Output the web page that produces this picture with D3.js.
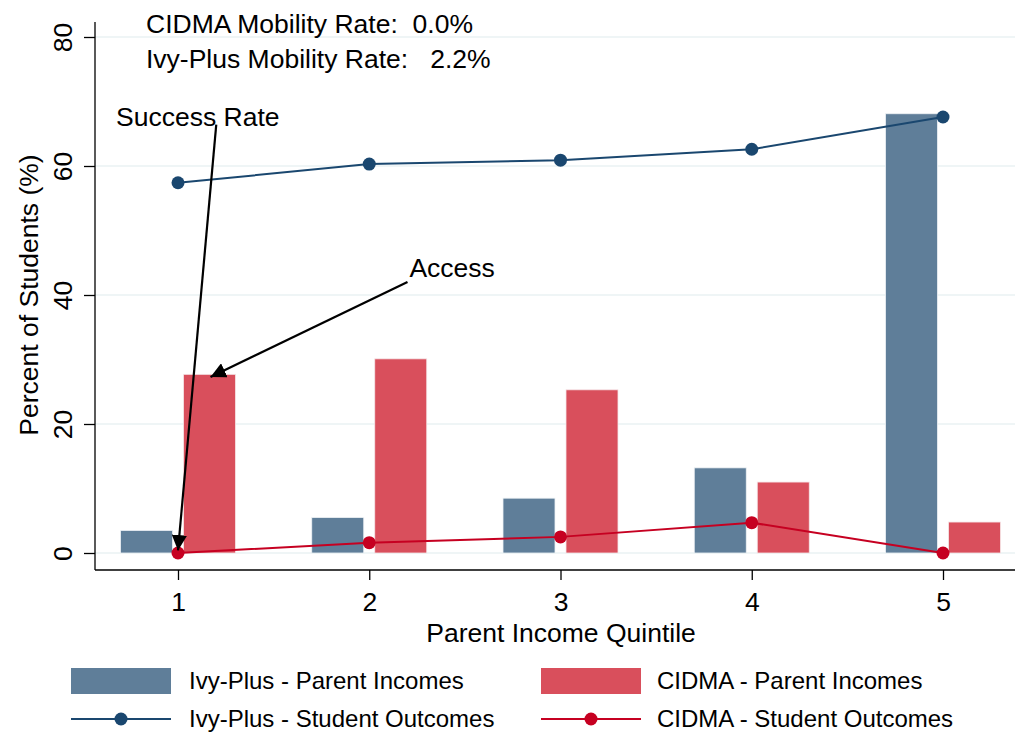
<!DOCTYPE html>
<html>
<head>
<meta charset="utf-8">
<script src="https://cdn.jsdelivr.net/npm/d3@7"></script>
<style>
  body { margin: 0; background: #fff; }
  svg { font-family: "Liberation Sans", Arial, sans-serif; }
</style>
</head>
<body>
<script>
// data
const quintiles = [1, 2, 3, 4, 5];
const ivyParent = [3.5, 5.5, 8.5, 13.2, 68.1];
const cidmaParent = [27.7, 30.1, 25.3, 11.0, 4.8];
const ivyOutcome = [57.4, 60.3, 60.9, 62.6, 67.6];
const cidmaOutcome = [0.0, 1.6, 2.5, 4.7, 0.0];
const yTicks = [0, 20, 40, 60, 80];
const mobilityLines = ["CIDMA Mobility Rate:  0.0%", "Ivy-Plus Mobility Rate:   2.2%"];

const width = 1015, height = 732;
const ivyBar = "#5f7e99", cidmaBar = "#d94f5c";
const ivyLine = "#1a476f", cidmaLine = "#c60021";
const bigFont = 26.5, legendFont = 24;

const x = d3.scaleLinear().domain([1, 5]).range([178, 943]);
const y = d3.scaleLinear().domain([0, 80]).range([553, 37]);
const barW = 52, barOff = 31.5;

const svg = d3.select("body").append("svg")
    .attr("width", width)
    .attr("height", height);

// arrow head marker
svg.append("defs").append("marker")
    .attr("id", "head")
    .attr("viewBox", "0 0 10 10")
    .attr("refX", 10).attr("refY", 5)
    .attr("markerWidth", 7).attr("markerHeight", 7)
    .attr("markerUnits", "strokeWidth")
    .attr("orient", "auto")
  .append("path")
    .attr("d", "M0,0L10,5L0,10Z")
    .attr("fill", "#000");

// gridlines
svg.append("g")
  .selectAll("line")
  .data(yTicks)
  .join("line")
    .attr("x1", 95).attr("x2", width)
    .attr("y1", d => y(d)).attr("y2", d => y(d))
    .attr("stroke", "#eaf2f3")
    .attr("stroke-width", 1.5);

// bars
svg.append("g")
  .selectAll("rect")
  .data(quintiles)
  .join("rect")
    .attr("x", (d, i) => x(d) - barOff - barW / 2)
    .attr("y", (d, i) => y(ivyParent[i]))
    .attr("width", barW)
    .attr("height", (d, i) => y(0) - y(ivyParent[i]))
    .attr("fill", ivyBar)
    .attr("stroke", "#eef2f5").attr("stroke-width", 0.8);

svg.append("g")
  .selectAll("rect")
  .data(quintiles)
  .join("rect")
    .attr("x", (d, i) => x(d) + barOff - barW / 2)
    .attr("y", (d, i) => y(cidmaParent[i]))
    .attr("width", barW)
    .attr("height", (d, i) => y(0) - y(cidmaParent[i]))
    .attr("fill", cidmaBar)
    .attr("stroke", "#f5e6e8").attr("stroke-width", 0.8);

// lines
const line = d3.line().x(d => x(d[0])).y(d => y(d[1]));

[[ivyOutcome, ivyLine], [cidmaOutcome, cidmaLine]].forEach(([vals, col]) => {
  const pts = quintiles.map((q, i) => [q, vals[i]]);
  svg.append("path")
      .attr("d", line(pts))
      .attr("fill", "none")
      .attr("stroke", col)
      .attr("stroke-width", 2);
  svg.append("g")
    .selectAll("circle")
    .data(pts)
    .join("circle")
      .attr("cx", d => x(d[0]))
      .attr("cy", d => y(d[1]))
      .attr("r", 6.5)
      .attr("fill", col);
});

// axes
const yAxis = svg.append("g")
    .attr("transform", "translate(95,0)")
    .call(d3.axisLeft(y).tickValues(yTicks).tickSize(11).tickPadding(0));
yAxis.select(".domain").attr("d", "M0,22V570").attr("stroke-width", 1.3);
yAxis.selectAll(".tick line").attr("stroke-width", 1.3);
yAxis.selectAll(".tick text")
    .attr("font-family", "Liberation Sans, Arial, sans-serif")
    .attr("font-size", bigFont)
    .attr("fill", "#000")
    .attr("text-anchor", "middle")
    .attr("transform", "translate(-32,0) rotate(-90)")
    .attr("x", 0).attr("dy", "0.35em");

const xAxis = svg.append("g")
    .attr("transform", "translate(0,570)")
    .call(d3.axisBottom(x).tickValues(quintiles).tickFormat(d3.format("d")).tickSize(10).tickPadding(12));
xAxis.select(".domain").attr("d", "M95,0H" + width).attr("stroke-width", 1.3);
xAxis.selectAll(".tick line").attr("stroke-width", 1.3);
xAxis.selectAll(".tick text")
    .attr("font-family", "Liberation Sans, Arial, sans-serif")
    .attr("font-size", bigFont)
    .attr("fill", "#000");

// axis titles
svg.append("text")
    .attr("x", 561).attr("y", 642)
    .attr("text-anchor", "middle")
    .attr("font-size", bigFont)
    .text("Parent Income Quintile");

svg.append("text")
    .attr("transform", "translate(38,295) rotate(-90)")
    .attr("text-anchor", "middle")
    .attr("font-size", bigFont)
    .text("Percent of Students (%)");

// mobility rates
svg.append("g")
  .selectAll("text")
  .data(mobilityLines)
  .join("text")
    .attr("x", 146)
    .attr("y", (d, i) => 33 + i * 35)
    .attr("font-size", bigFont)
    .style("white-space", "pre")
    .text(d => d);

// annotations (data coordinates)
const notes = [
  {label: "Success Rate", tx: 0.676, ty: 66.2, from: [1.2, 66.4], to: [1.0, 0.4]},
  {label: "Access", tx: 2.21, ty: 42.8, from: [2.2, 42.0], to: [1.17, 27.3]}
];
notes.forEach(n => {
  svg.append("line")
      .attr("x1", x(n.from[0])).attr("y1", y(n.from[1]))
      .attr("x2", x(n.to[0])).attr("y2", y(n.to[1]))
      .attr("stroke", "#000")
      .attr("stroke-width", 2.2)
      .attr("marker-end", "url(#head)");
  svg.append("text")
      .attr("x", x(n.tx)).attr("y", y(n.ty))
      .attr("font-size", bigFont)
      .text(n.label);
});

// legend
const legend = svg.append("g");
const items = [
  {label: "Ivy-Plus - Parent Incomes", col: ivyBar, type: "bar", x: 71, y: 681},
  {label: "CIDMA - Parent Incomes", col: cidmaBar, type: "bar", x: 541, y: 681},
  {label: "Ivy-Plus - Student Outcomes", col: ivyLine, type: "line", x: 71, y: 719},
  {label: "CIDMA - Student Outcomes", col: cidmaLine, type: "line", x: 541, y: 719}
];
items.forEach(it => {
  const g = legend.append("g").attr("transform", `translate(${it.x},${it.y})`);
  if (it.type === "bar") {
    g.append("rect").attr("x", 0).attr("y", -13).attr("width", 100).attr("height", 26).attr("fill", it.col);
  } else {
    g.append("line").attr("x1", 0).attr("x2", 100).attr("stroke", it.col).attr("stroke-width", 2);
    g.append("circle").attr("cx", 50).attr("r", 6.5).attr("fill", it.col);
  }
  g.append("text")
      .attr("x", it.x === 71 ? 118 : 116)
      .attr("dy", "0.35em")
      .attr("font-size", legendFont)
      .text(it.label);
});
</script>
</body>
</html>
